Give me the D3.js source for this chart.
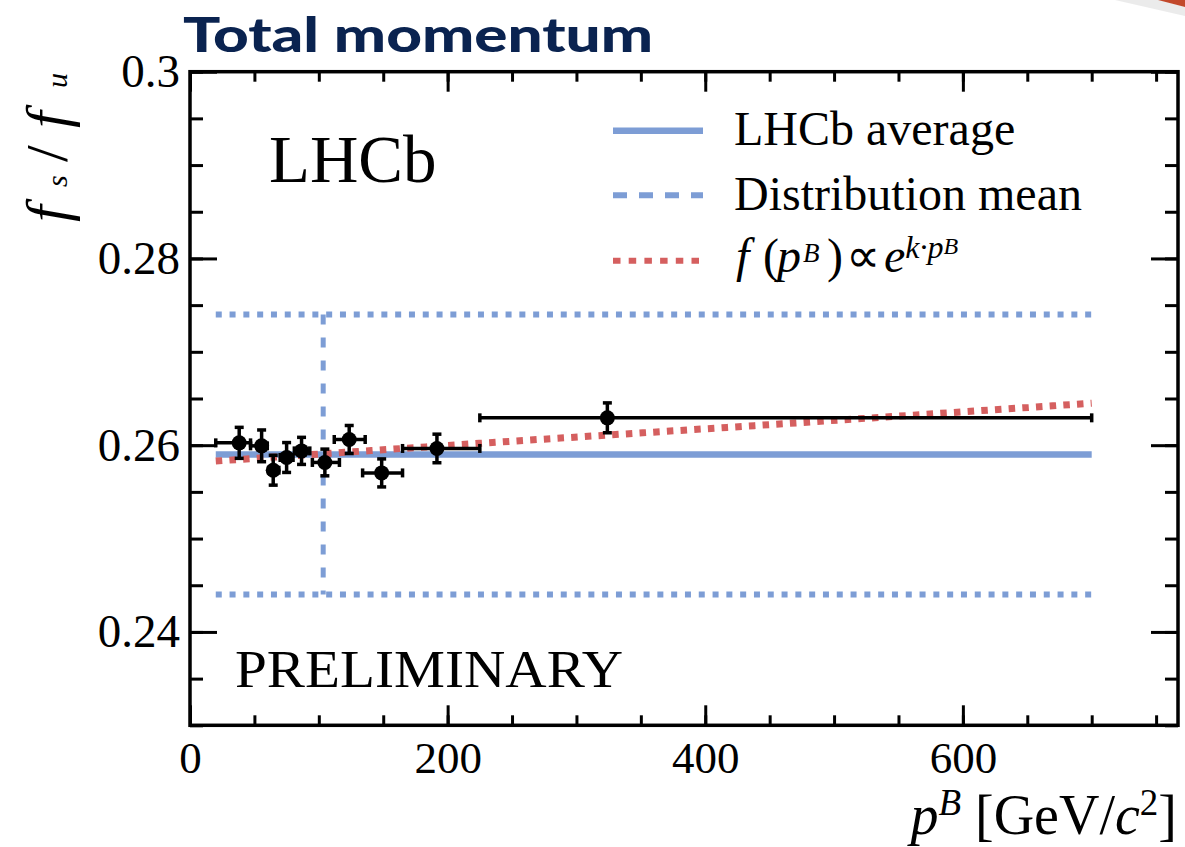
<!DOCTYPE html>
<html>
<head>
<meta charset="utf-8">
<script src="https://cdn.jsdelivr.net/npm/d3@7"></script>
<style>
  body { margin: 0; background: #fff; }
  svg text { font-family: "Liberation Serif", "Times New Roman", serif; fill: #000; }
</style>
</head>
<body>
<svg id="chart" width="1185" height="847"></svg>
<script>
// f_s/f_u vs total B momentum
const pB      = [38.2, 55.6, 64.6, 75.0, 86.6, 104.7, 123.6, 148.8, 191.7, 324.0];
const pBLow   = [20, 47, 61, 70, 81, 95, 112, 134, 165, 225];
const pBHigh  = [47, 60, 69, 80, 93, 116, 136, 165, 225, 700];
const fsfu    = [0.26025, 0.25993, 0.25732, 0.25868, 0.25939, 0.25815, 0.26061, 0.25703, 0.25965, 0.26293];
const fsfuErr = [0.00166, 0.0017, 0.0016, 0.0016, 0.00145, 0.00143, 0.0015, 0.0015, 0.00153, 0.0016];

const lhcbAvg = 0.2590;
const meanP = 103.4;
const meanBand = [0.2440, 0.2740];
const lineRange = [20, 700];

// exponential fit, points
const fitP = [20, 225, 450, 700];
const fitF = [0.2583, 0.2602, 0.2622, 0.2645];

const xTickValues = [0, 200, 400, 600];
const xTickLabels = ["0", "200", "400", "600"];
const yTickValues = [0.24, 0.26, 0.28, 0.30];
const yTickLabels = ["0.24", "0.26", "0.28", "0.3"];

const legendNames = ["LHCb average", "Distribution mean"];

const blue = "#7d9dd5";
const red = "#d55f5f";

const svg = d3.select("#chart");
const x = d3.scaleLinear().domain([0, 767]).range([190, 1178]);
const y = d3.scaleLinear().domain([0.23, 0.30]).range([725.3, 71.7]);

const xMinor = d3.range(0, 767, 50);
const yMinor = d3.range(0, 15).map(i => 0.23 + i * 0.005);

function addAxis(axis, tx, ty, fontSize) {
  const g = svg.append("g")
    .attr("transform", "translate(" + tx + "," + ty + ")")
    .call(axis);
  g.select(".domain").remove();
  g.selectAll(".tick line").attr("stroke", "#000").attr("stroke-width", 3);
  g.attr("font-family", "Liberation Serif").attr("font-size", fontSize || 10);
  g.selectAll(".tick text").attr("fill", "#000");
  return g;
}

// bottom
addAxis(d3.axisBottom(x).tickValues(xMinor).tickSizeInner(-10).tickSizeOuter(0).tickFormat(""), 0, y.range()[0]);
addAxis(d3.axisBottom(x).tickValues(xTickValues).tickSizeInner(-20).tickSizeOuter(0).tickPadding(16)
  .tickFormat((d, i) => xTickLabels[i]), 0, y.range()[0], 45);
// top
addAxis(d3.axisTop(x).tickValues(xMinor).tickSizeInner(-10).tickSizeOuter(0).tickFormat(""), 0, y.range()[1]);
addAxis(d3.axisTop(x).tickValues(xTickValues).tickSizeInner(-20).tickSizeOuter(0).tickFormat(""), 0, y.range()[1]);
// left
addAxis(d3.axisLeft(y).tickValues(yMinor).tickSizeInner(-13).tickSizeOuter(0).tickFormat(""), x.range()[0], 0);
addAxis(d3.axisLeft(y).tickValues(yTickValues).tickSizeInner(-27).tickSizeOuter(0).tickPadding(10)
  .tickFormat((d, i) => yTickLabels[i]), x.range()[0], 0, 47);
// right
addAxis(d3.axisRight(y).tickValues(yMinor).tickSizeInner(-13).tickSizeOuter(0).tickFormat(""), x.range()[1], 0);
addAxis(d3.axisRight(y).tickValues(yTickValues).tickSizeInner(-27).tickSizeOuter(0).tickFormat(""), x.range()[1], 0);

svg.append("rect")
  .attr("x", x.range()[0]).attr("y", y.range()[1])
  .attr("width", x.range()[1] - x.range()[0])
  .attr("height", y.range()[0] - y.range()[1])
  .attr("fill", "none").attr("stroke", "#000").attr("stroke-width", 3.5);

// distribution mean band (dotted) and mean (dashed)
meanBand.forEach(v => {
  svg.append("line")
    .attr("x1", x(lineRange[0])).attr("x2", x(lineRange[1]))
    .attr("y1", y(v)).attr("y2", y(v))
    .attr("stroke", blue).attr("stroke-width", 6).attr("stroke-dasharray", "6 7.8");
});
svg.append("line")
  .attr("x1", x(meanP)).attr("x2", x(meanP))
  .attr("y1", y(meanBand[1])).attr("y2", y(meanBand[0]))
  .attr("stroke", blue).attr("stroke-width", 5).attr("stroke-dasharray", "10 13");

// LHCb average
svg.append("line")
  .attr("x1", x(lineRange[0])).attr("x2", x(lineRange[1]))
  .attr("y1", y(lhcbAvg)).attr("y2", y(lhcbAvg))
  .attr("stroke", blue).attr("stroke-width", 6.5);

// fit
const fitLine = d3.line().x((d, i) => x(d)).y((d, i) => y(fitF[i])).curve(d3.curveMonotoneX);
svg.append("path")
  .attr("d", fitLine(fitP))
  .attr("fill", "none").attr("stroke", red).attr("stroke-width", 7).attr("stroke-dasharray", "6.5 7.2");

// data points with error bars
const pts = svg.append("g").attr("stroke", "#000").attr("stroke-width", 3.5);
const cap = 4.5;
pB.forEach((p, i) => {
  const cy = y(fsfu[i]);
  const lo = x(pBLow[i]), hi = x(pBHigh[i]);
  const yt = y(fsfu[i] + fsfuErr[i]), yb = y(fsfu[i] - fsfuErr[i]);
  pts.append("line").attr("x1", lo).attr("x2", hi).attr("y1", cy).attr("y2", cy);
  pts.append("line").attr("x1", lo).attr("x2", lo).attr("y1", cy - cap).attr("y2", cy + cap);
  pts.append("line").attr("x1", hi).attr("x2", hi).attr("y1", cy - cap).attr("y2", cy + cap);
  pts.append("line").attr("x1", x(p)).attr("x2", x(p)).attr("y1", yt).attr("y2", yb);
  pts.append("line").attr("x1", x(p) - cap).attr("x2", x(p) + cap).attr("y1", yt).attr("y2", yt);
  pts.append("line").attr("x1", x(p) - cap).attr("x2", x(p) + cap).attr("y1", yb).attr("y2", yb);
  pts.append("circle").attr("cx", x(p)).attr("cy", cy).attr("r", 7.5).attr("fill", "#000").attr("stroke", "none");
});

// legend
const legY = [130.7, 195.3, 260.7];
const legStyles = [
  { dash: null, color: blue, w: 6.5 },
  { dash: "14 12", color: blue, w: 6 },
  { dash: "7.5 8.2", color: red, w: 6 }
];
legStyles.forEach((s, i) => {
  svg.append("line")
    .attr("x1", 613).attr("x2", 703).attr("y1", legY[i]).attr("y2", legY[i])
    .attr("stroke", s.color).attr("stroke-width", s.w)
    .attr("stroke-dasharray", s.dash);
});
legendNames.forEach((n, i) => {
  svg.append("text").attr("x", 734).attr("y", legY[i] + 14.5)
    .attr("font-size", 48).text(n);
});
// f(p^B) ∝ e^{k·p^B}, one text with super-scripted tspans
const formula = svg.append("text").attr("y", 272).attr("font-size", 48);
formula.append("tspan").attr("x", 736).attr("font-style", "italic").text("f");
formula.append("tspan").attr("x", 763).text("(");
formula.append("tspan").attr("x", 777).attr("font-style", "italic").text("p");
formula.append("tspan").attr("x", 803).attr("dy", -10).attr("font-size", 27).attr("font-style", "italic").text("B");
formula.append("tspan").attr("x", 827).attr("dy", 10).text(")");
formula.append("tspan").attr("x", 846).text("\u221d");
formula.append("tspan").attr("x", 884).attr("font-style", "italic")
  .text("e")
  .append("tspan").attr("dy", -14).attr("font-size", 32).text("k\u00b7p")
  .append("tspan").attr("dy", -4).attr("font-size", 24).text("B");

// labels
svg.append("text").attr("x", 269).attr("y", 181.7).attr("font-size", 67).text("LHCb");
svg.append("text").attr("x", 235).attr("y", 686.7).attr("font-size", 53)
  .attr("textLength", 388).attr("lengthAdjust", "spacingAndGlyphs").text("PRELIMINARY");

// axis titles
const xt = svg.append("text").attr("x", 1177).attr("y", 834).attr("font-size", 56).attr("text-anchor", "end");
xt.append("tspan").attr("font-style", "italic").text("p");
xt.append("tspan").attr("font-style", "italic").attr("font-size", 37).attr("dy", -19).text("B");
xt.append("tspan").attr("dy", 19).text(" [GeV/");
xt.append("tspan").attr("font-style", "italic").text("c");
xt.append("tspan").attr("font-size", 37).attr("dy", -19).text("2");
xt.append("tspan").attr("dy", 19).text("]");

const yt = svg.append("text").attr("transform", "translate(67,228) rotate(-90)")
  .attr("font-size", 60).attr("font-style", "italic");
yt.append("tspan").attr("x", 6).text("f");
yt.append("tspan").attr("x", 41).attr("font-size", 30).text("s");
yt.append("tspan").attr("x", 66).attr("font-style", "normal").text("/");
yt.append("tspan").attr("x", 100).text("f");
yt.append("tspan").attr("x", 140).attr("font-size", 30).text("u");

// slide title
svg.append("text").attr("x", 183).attr("y", 51.7)
  .style("font-family", "Lato, 'DejaVu Sans', sans-serif").style("fill", "#0a2350")
  .attr("font-weight", 900).attr("font-size", 47)
  .attr("textLength", 470).attr("lengthAdjust", "spacingAndGlyphs")
  .text("Total momentum");

// slide corner decoration
svg.append("polygon").attr("points", "1115,0 1160,0 1185,7 1185,16").attr("fill", "#ddd").attr("opacity", 0.6);
svg.append("polygon").attr("points", "1158,0 1185,0 1185,7").attr("fill", "#c2482b");
</script>
</body>
</html>
